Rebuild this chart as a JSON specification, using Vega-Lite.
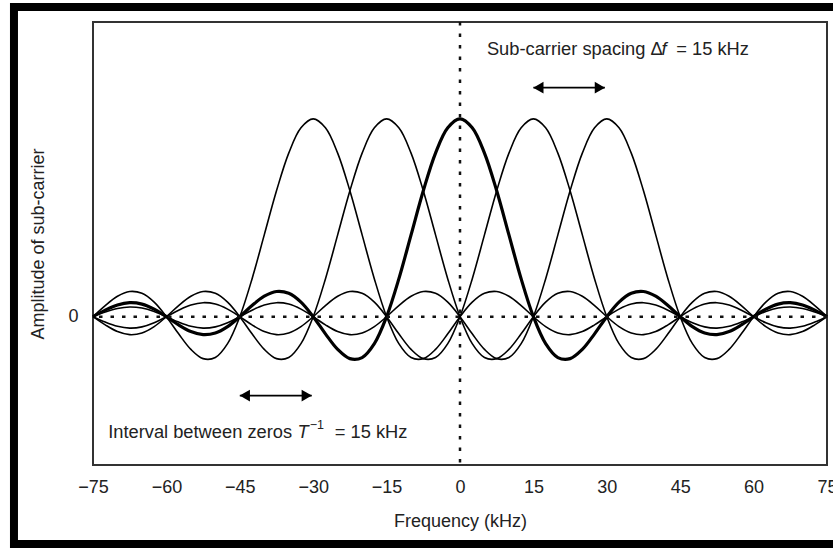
{
  "$schema": "https://vega.github.io/schema/vega-lite/v6.json",
  "width": 734,
  "height": 443,
  "autosize": "none",
  "padding": {"left": 93, "top": 22, "right": 6, "bottom": 83},
  "background": "white",
  "config": {
    "view": {"stroke": "#333", "strokeWidth": 2},
    "font": "Liberation Sans",
    "axis": {"labelFont": "Liberation Sans", "titleFont": "Liberation Sans"}
  },
  "datasets": {
    "sub": [
      {"c":-30,"f":-75,"a":0},{"c":-30,"f":-72.5,"a":0.0562},{"c":-30,"f":-70,"a":0.1034},{"c":-30,"f":-67.5,"a":0.1273},{"c":-30,"f":-65,"a":0.1181},{"c":-30,"f":-62.5,"a":0.0735},{"c":-30,"f":-60,"a":0},
      {"c":-30,"f":-57.5,"a":-0.0868},{"c":-30,"f":-55,"a":-0.1654},{"c":-30,"f":-52.5,"a":-0.2122},{"c":-30,"f":-50,"a":-0.2067},{"c":-30,"f":-47.5,"a":-0.1364},{"c":-30,"f":-45,"a":0},
      {"c":-30,"f":-42.5,"a":0.191},{"c":-30,"f":-40,"a":0.4135},{"c":-30,"f":-37.5,"a":0.6366},{"c":-30,"f":-35,"a":0.827},{"c":-30,"f":-32.5,"a":0.9549},{"c":-30,"f":-30,"a":1},
      {"c":-30,"f":-27.5,"a":0.9549},{"c":-30,"f":-25,"a":0.827},{"c":-30,"f":-22.5,"a":0.6366},{"c":-30,"f":-20,"a":0.4135},{"c":-30,"f":-17.5,"a":0.191},{"c":-30,"f":-15,"a":0},
      {"c":-30,"f":-12.5,"a":-0.1364},{"c":-30,"f":-10,"a":-0.2067},{"c":-30,"f":-7.5,"a":-0.2122},{"c":-30,"f":-5,"a":-0.1654},{"c":-30,"f":-2.5,"a":-0.0868},{"c":-30,"f":0,"a":0},
      {"c":-30,"f":2.5,"a":0.0735},{"c":-30,"f":5,"a":0.1181},{"c":-30,"f":7.5,"a":0.1273},{"c":-30,"f":10,"a":0.1034},{"c":-30,"f":12.5,"a":0.0562},{"c":-30,"f":15,"a":0},
      {"c":-30,"f":17.5,"a":-0.0503},{"c":-30,"f":20,"a":-0.0827},{"c":-30,"f":22.5,"a":-0.0909},{"c":-30,"f":25,"a":-0.0752},{"c":-30,"f":27.5,"a":-0.0415},{"c":-30,"f":30,"a":0},
      {"c":-30,"f":32.5,"a":0.0382},{"c":-30,"f":35,"a":0.0636},{"c":-30,"f":37.5,"a":0.0707},{"c":-30,"f":40,"a":0.0591},{"c":-30,"f":42.5,"a":0.0329},{"c":-30,"f":45,"a":0},
      {"c":-30,"f":47.5,"a":-0.0308},{"c":-30,"f":50,"a":-0.0517},{"c":-30,"f":52.5,"a":-0.0579},{"c":-30,"f":55,"a":-0.0486},{"c":-30,"f":57.5,"a":-0.0273},{"c":-30,"f":60,"a":0},
      {"c":-30,"f":62.5,"a":0.0258},{"c":-30,"f":65,"a":0.0435},{"c":-30,"f":67.5,"a":0.049},{"c":-30,"f":70,"a":0.0413},{"c":-30,"f":72.5,"a":0.0233},{"c":-30,"f":75,"a":0},

      {"c":-15,"f":-75,"a":0},{"c":-15,"f":-72.5,"a":-0.0415},{"c":-15,"f":-70,"a":-0.0752},{"c":-15,"f":-67.5,"a":-0.0909},{"c":-15,"f":-65,"a":-0.0827},{"c":-15,"f":-62.5,"a":-0.0503},{"c":-15,"f":-60,"a":0},
      {"c":-15,"f":-57.5,"a":0.0562},{"c":-15,"f":-55,"a":0.1034},{"c":-15,"f":-52.5,"a":0.1273},{"c":-15,"f":-50,"a":0.1181},{"c":-15,"f":-47.5,"a":0.0735},{"c":-15,"f":-45,"a":0},
      {"c":-15,"f":-42.5,"a":-0.0868},{"c":-15,"f":-40,"a":-0.1654},{"c":-15,"f":-37.5,"a":-0.2122},{"c":-15,"f":-35,"a":-0.2067},{"c":-15,"f":-32.5,"a":-0.1364},{"c":-15,"f":-30,"a":0},
      {"c":-15,"f":-27.5,"a":0.191},{"c":-15,"f":-25,"a":0.4135},{"c":-15,"f":-22.5,"a":0.6366},{"c":-15,"f":-20,"a":0.827},{"c":-15,"f":-17.5,"a":0.9549},{"c":-15,"f":-15,"a":1},
      {"c":-15,"f":-12.5,"a":0.9549},{"c":-15,"f":-10,"a":0.827},{"c":-15,"f":-7.5,"a":0.6366},{"c":-15,"f":-5,"a":0.4135},{"c":-15,"f":-2.5,"a":0.191},{"c":-15,"f":0,"a":0},
      {"c":-15,"f":2.5,"a":-0.1364},{"c":-15,"f":5,"a":-0.2067},{"c":-15,"f":7.5,"a":-0.2122},{"c":-15,"f":10,"a":-0.1654},{"c":-15,"f":12.5,"a":-0.0868},{"c":-15,"f":15,"a":0},
      {"c":-15,"f":17.5,"a":0.0735},{"c":-15,"f":20,"a":0.1181},{"c":-15,"f":22.5,"a":0.1273},{"c":-15,"f":25,"a":0.1034},{"c":-15,"f":27.5,"a":0.0562},{"c":-15,"f":30,"a":0},
      {"c":-15,"f":32.5,"a":-0.0503},{"c":-15,"f":35,"a":-0.0827},{"c":-15,"f":37.5,"a":-0.0909},{"c":-15,"f":40,"a":-0.0752},{"c":-15,"f":42.5,"a":-0.0415},{"c":-15,"f":45,"a":0},
      {"c":-15,"f":47.5,"a":0.0382},{"c":-15,"f":50,"a":0.0636},{"c":-15,"f":52.5,"a":0.0707},{"c":-15,"f":55,"a":0.0591},{"c":-15,"f":57.5,"a":0.0329},{"c":-15,"f":60,"a":0},
      {"c":-15,"f":62.5,"a":-0.0308},{"c":-15,"f":65,"a":-0.0517},{"c":-15,"f":67.5,"a":-0.0579},{"c":-15,"f":70,"a":-0.0486},{"c":-15,"f":72.5,"a":-0.0273},{"c":-15,"f":75,"a":0},

      {"c":0,"f":-75,"a":0},{"c":0,"f":-72.5,"a":0.0329},{"c":0,"f":-70,"a":0.0591},{"c":0,"f":-67.5,"a":0.0707},{"c":0,"f":-65,"a":0.0636},{"c":0,"f":-62.5,"a":0.0382},{"c":0,"f":-60,"a":0},
      {"c":0,"f":-57.5,"a":-0.0415},{"c":0,"f":-55,"a":-0.0752},{"c":0,"f":-52.5,"a":-0.0909},{"c":0,"f":-50,"a":-0.0827},{"c":0,"f":-47.5,"a":-0.0503},{"c":0,"f":-45,"a":0},
      {"c":0,"f":-42.5,"a":0.0562},{"c":0,"f":-40,"a":0.1034},{"c":0,"f":-37.5,"a":0.1273},{"c":0,"f":-35,"a":0.1181},{"c":0,"f":-32.5,"a":0.0735},{"c":0,"f":-30,"a":0},
      {"c":0,"f":-27.5,"a":-0.0868},{"c":0,"f":-25,"a":-0.1654},{"c":0,"f":-22.5,"a":-0.2122},{"c":0,"f":-20,"a":-0.2067},{"c":0,"f":-17.5,"a":-0.1364},{"c":0,"f":-15,"a":0},
      {"c":0,"f":-12.5,"a":0.191},{"c":0,"f":-10,"a":0.4135},{"c":0,"f":-7.5,"a":0.6366},{"c":0,"f":-5,"a":0.827},{"c":0,"f":-2.5,"a":0.9549},{"c":0,"f":0,"a":1},
      {"c":0,"f":2.5,"a":0.9549},{"c":0,"f":5,"a":0.827},{"c":0,"f":7.5,"a":0.6366},{"c":0,"f":10,"a":0.4135},{"c":0,"f":12.5,"a":0.191},{"c":0,"f":15,"a":0},
      {"c":0,"f":17.5,"a":-0.1364},{"c":0,"f":20,"a":-0.2067},{"c":0,"f":22.5,"a":-0.2122},{"c":0,"f":25,"a":-0.1654},{"c":0,"f":27.5,"a":-0.0868},{"c":0,"f":30,"a":0},
      {"c":0,"f":32.5,"a":0.0735},{"c":0,"f":35,"a":0.1181},{"c":0,"f":37.5,"a":0.1273},{"c":0,"f":40,"a":0.1034},{"c":0,"f":42.5,"a":0.0562},{"c":0,"f":45,"a":0},
      {"c":0,"f":47.5,"a":-0.0503},{"c":0,"f":50,"a":-0.0827},{"c":0,"f":52.5,"a":-0.0909},{"c":0,"f":55,"a":-0.0752},{"c":0,"f":57.5,"a":-0.0415},{"c":0,"f":60,"a":0},
      {"c":0,"f":62.5,"a":0.0382},{"c":0,"f":65,"a":0.0636},{"c":0,"f":67.5,"a":0.0707},{"c":0,"f":70,"a":0.0591},{"c":0,"f":72.5,"a":0.0329},{"c":0,"f":75,"a":0},

      {"c":15,"f":-75,"a":0},{"c":15,"f":-72.5,"a":-0.0273},{"c":15,"f":-70,"a":-0.0486},{"c":15,"f":-67.5,"a":-0.0579},{"c":15,"f":-65,"a":-0.0517},{"c":15,"f":-62.5,"a":-0.0308},{"c":15,"f":-60,"a":0},
      {"c":15,"f":-57.5,"a":0.0329},{"c":15,"f":-55,"a":0.0591},{"c":15,"f":-52.5,"a":0.0707},{"c":15,"f":-50,"a":0.0636},{"c":15,"f":-47.5,"a":0.0382},{"c":15,"f":-45,"a":0},
      {"c":15,"f":-42.5,"a":-0.0415},{"c":15,"f":-40,"a":-0.0752},{"c":15,"f":-37.5,"a":-0.0909},{"c":15,"f":-35,"a":-0.0827},{"c":15,"f":-32.5,"a":-0.0503},{"c":15,"f":-30,"a":0},
      {"c":15,"f":-27.5,"a":0.0562},{"c":15,"f":-25,"a":0.1034},{"c":15,"f":-22.5,"a":0.1273},{"c":15,"f":-20,"a":0.1181},{"c":15,"f":-17.5,"a":0.0735},{"c":15,"f":-15,"a":0},
      {"c":15,"f":-12.5,"a":-0.0868},{"c":15,"f":-10,"a":-0.1654},{"c":15,"f":-7.5,"a":-0.2122},{"c":15,"f":-5,"a":-0.2067},{"c":15,"f":-2.5,"a":-0.1364},{"c":15,"f":0,"a":0},
      {"c":15,"f":2.5,"a":0.191},{"c":15,"f":5,"a":0.4135},{"c":15,"f":7.5,"a":0.6366},{"c":15,"f":10,"a":0.827},{"c":15,"f":12.5,"a":0.9549},{"c":15,"f":15,"a":1},
      {"c":15,"f":17.5,"a":0.9549},{"c":15,"f":20,"a":0.827},{"c":15,"f":22.5,"a":0.6366},{"c":15,"f":25,"a":0.4135},{"c":15,"f":27.5,"a":0.191},{"c":15,"f":30,"a":0},
      {"c":15,"f":32.5,"a":-0.1364},{"c":15,"f":35,"a":-0.2067},{"c":15,"f":37.5,"a":-0.2122},{"c":15,"f":40,"a":-0.1654},{"c":15,"f":42.5,"a":-0.0868},{"c":15,"f":45,"a":0},
      {"c":15,"f":47.5,"a":0.0735},{"c":15,"f":50,"a":0.1181},{"c":15,"f":52.5,"a":0.1273},{"c":15,"f":55,"a":0.1034},{"c":15,"f":57.5,"a":0.0562},{"c":15,"f":60,"a":0},
      {"c":15,"f":62.5,"a":-0.0503},{"c":15,"f":65,"a":-0.0827},{"c":15,"f":67.5,"a":-0.0909},{"c":15,"f":70,"a":-0.0752},{"c":15,"f":72.5,"a":-0.0415},{"c":15,"f":75,"a":0},

      {"c":30,"f":-75,"a":0},{"c":30,"f":-72.5,"a":0.0233},{"c":30,"f":-70,"a":0.0413},{"c":30,"f":-67.5,"a":0.049},{"c":30,"f":-65,"a":0.0435},{"c":30,"f":-62.5,"a":0.0258},{"c":30,"f":-60,"a":0},
      {"c":30,"f":-57.5,"a":-0.0273},{"c":30,"f":-55,"a":-0.0486},{"c":30,"f":-52.5,"a":-0.0579},{"c":30,"f":-50,"a":-0.0517},{"c":30,"f":-47.5,"a":-0.0308},{"c":30,"f":-45,"a":0},
      {"c":30,"f":-42.5,"a":0.0329},{"c":30,"f":-40,"a":0.0591},{"c":30,"f":-37.5,"a":0.0707},{"c":30,"f":-35,"a":0.0636},{"c":30,"f":-32.5,"a":0.0382},{"c":30,"f":-30,"a":0},
      {"c":30,"f":-27.5,"a":-0.0415},{"c":30,"f":-25,"a":-0.0752},{"c":30,"f":-22.5,"a":-0.0909},{"c":30,"f":-20,"a":-0.0827},{"c":30,"f":-17.5,"a":-0.0503},{"c":30,"f":-15,"a":0},
      {"c":30,"f":-12.5,"a":0.0562},{"c":30,"f":-10,"a":0.1034},{"c":30,"f":-7.5,"a":0.1273},{"c":30,"f":-5,"a":0.1181},{"c":30,"f":-2.5,"a":0.0735},{"c":30,"f":0,"a":0},
      {"c":30,"f":2.5,"a":-0.0868},{"c":30,"f":5,"a":-0.1654},{"c":30,"f":7.5,"a":-0.2122},{"c":30,"f":10,"a":-0.2067},{"c":30,"f":12.5,"a":-0.1364},{"c":30,"f":15,"a":0},
      {"c":30,"f":17.5,"a":0.191},{"c":30,"f":20,"a":0.4135},{"c":30,"f":22.5,"a":0.6366},{"c":30,"f":25,"a":0.827},{"c":30,"f":27.5,"a":0.9549},{"c":30,"f":30,"a":1},
      {"c":30,"f":32.5,"a":0.9549},{"c":30,"f":35,"a":0.827},{"c":30,"f":37.5,"a":0.6366},{"c":30,"f":40,"a":0.4135},{"c":30,"f":42.5,"a":0.191},{"c":30,"f":45,"a":0},
      {"c":30,"f":47.5,"a":-0.1364},{"c":30,"f":50,"a":-0.2067},{"c":30,"f":52.5,"a":-0.2122},{"c":30,"f":55,"a":-0.1654},{"c":30,"f":57.5,"a":-0.0868},{"c":30,"f":60,"a":0},
      {"c":30,"f":62.5,"a":0.0735},{"c":30,"f":65,"a":0.1181},{"c":30,"f":67.5,"a":0.1273},{"c":30,"f":70,"a":0.1034},{"c":30,"f":72.5,"a":0.0562},{"c":30,"f":75,"a":0}
    ],
    "arrows": [
      {"x1": 15, "x2": 29.6, "y": 1.158},
      {"x1": -45, "x2": -30.3, "y": -0.399}
    ]
  },
  "layer": [
    {
      "data": {"name": "sub"},
      "mark": {"type": "line", "interpolate": "catmull-rom", "color": "black"},
      "encoding": {
        "x": {
          "field": "f", "type": "quantitative",
          "scale": {"domain": [-75, 75], "nice": false, "zero": false},
          "axis": {
            "values": [-75, -60, -45, -30, -15, 0, 15, 30, 45, 60, 75],
            "format": "d", "ticks": false, "domain": false, "grid": false,
            "labelFontSize": 18, "labelPadding": 13, "labelColor": "#222",
            "labelFlush": false, "labelOverlap": false,
            "title": "Frequency (kHz)", "titleFontSize": 18, "titleFontWeight": "normal",
            "titleColor": "#222", "titlePadding": 16
          }
        },
        "y": {
          "field": "a", "type": "quantitative",
          "scale": {"domain": [-0.75, 1.49], "nice": false, "zero": false},
          "axis": {
            "values": [0], "format": ".0f", "ticks": false, "domain": false, "grid": false,
            "labelFontSize": 18, "labelPadding": 15, "labelColor": "#222",
            "title": "Amplitude of sub-carrier", "titleFontSize": 18, "titleFontWeight": "normal",
            "titleColor": "#222", "titlePadding": 20
          }
        },
        "detail": {"field": "c", "type": "nominal"},
        "strokeWidth": {"condition": {"test": "datum.c === 0", "value": 3.2}, "value": 1.6}
      }
    },
    {
      "data": {"values": [{}]},
      "mark": {"type": "rule", "strokeDash": [3.5, 8], "strokeWidth": 2.5, "color": "#111"},
      "encoding": {"x": {"datum": 0, "type": "quantitative"}}
    },
    {
      "data": {"values": [{}]},
      "mark": {"type": "rule", "strokeDash": [3.5, 8], "strokeWidth": 2.5, "color": "#111"},
      "encoding": {"y": {"datum": 0, "type": "quantitative"}}
    },
    {
      "data": {"name": "arrows"},
      "mark": {"type": "rule", "strokeWidth": 1.8, "color": "black"},
      "encoding": {
        "x": {"field": "x1", "type": "quantitative"},
        "x2": {"field": "x2"},
        "y": {"field": "y", "type": "quantitative"}
      }
    },
    {
      "data": {"name": "arrows"},
      "mark": {"type": "point", "shape": "triangle-left", "filled": true, "size": 140, "color": "black", "opacity": 1, "xOffset": 5},
      "encoding": {
        "x": {"field": "x1", "type": "quantitative"},
        "y": {"field": "y", "type": "quantitative"}
      }
    },
    {
      "data": {"name": "arrows"},
      "mark": {"type": "point", "shape": "triangle-right", "filled": true, "size": 140, "color": "black", "opacity": 1, "xOffset": -5},
      "encoding": {
        "x": {"field": "x2", "type": "quantitative"},
        "y": {"field": "y", "type": "quantitative"}
      }
    },
    {
      "data": {"values": [{}]},
      "mark": {"type": "text", "align": "left", "baseline": "middle", "fontSize": 18.3, "color": "#222", "text": "Sub-carrier spacing Δ"},
      "encoding": {"x": {"datum": 5.5, "type": "quantitative"}, "y": {"datum": 1.35, "type": "quantitative"}}
    },
    {
      "data": {"values": [{}]},
      "mark": {"type": "text", "align": "left", "baseline": "middle", "fontSize": 18.3, "fontStyle": "italic", "color": "#222", "text": "f"},
      "encoding": {"x": {"datum": 41.2, "type": "quantitative"}, "y": {"datum": 1.35, "type": "quantitative"}}
    },
    {
      "data": {"values": [{}]},
      "mark": {"type": "text", "align": "left", "baseline": "middle", "fontSize": 18.3, "color": "#222", "text": "= 15 kHz"},
      "encoding": {"x": {"datum": 44.2, "type": "quantitative"}, "y": {"datum": 1.35, "type": "quantitative"}}
    },
    {
      "data": {"values": [{}]},
      "mark": {"type": "text", "align": "left", "baseline": "middle", "fontSize": 18.3, "color": "#222", "text": "Interval between zeros"},
      "encoding": {"x": {"datum": -71.9, "type": "quantitative"}, "y": {"datum": -0.587, "type": "quantitative"}}
    },
    {
      "data": {"values": [{}]},
      "mark": {"type": "text", "align": "left", "baseline": "middle", "fontSize": 18.3, "fontStyle": "italic", "color": "#222", "text": "T"},
      "encoding": {"x": {"datum": -33.2, "type": "quantitative"}, "y": {"datum": -0.587, "type": "quantitative"}}
    },
    {
      "data": {"values": [{}]},
      "mark": {"type": "text", "align": "left", "baseline": "middle", "fontSize": 12.5, "color": "#222", "text": "−1"},
      "encoding": {"x": {"datum": -30.7, "type": "quantitative"}, "y": {"datum": -0.55, "type": "quantitative"}}
    },
    {
      "data": {"values": [{}]},
      "mark": {"type": "text", "align": "left", "baseline": "middle", "fontSize": 18.3, "color": "#222", "text": "= 15 kHz"},
      "encoding": {"x": {"datum": -25.6, "type": "quantitative"}, "y": {"datum": -0.587, "type": "quantitative"}}
    },
    {
      "data": {"values": [{}]},
      "mark": {"type": "rect", "fill": "transparent", "stroke": "black", "strokeWidth": 8},
      "encoding": {
        "x": {"datum": -91.15, "type": "quantitative"},
        "x2": {"datum": 80},
        "y": {"datum": 1.566, "type": "quantitative"},
        "y2": {"datum": -1.149}
      }
    }
  ]
}
